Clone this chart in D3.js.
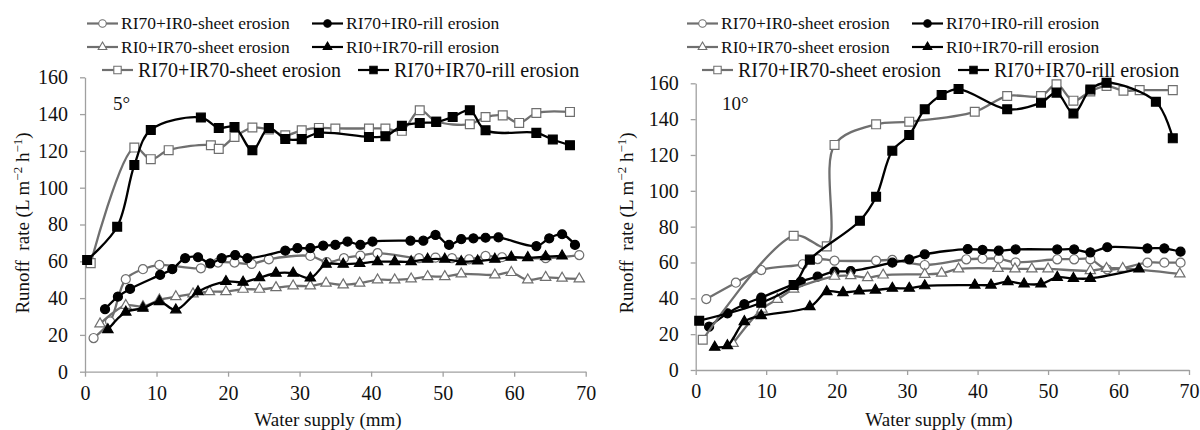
<!DOCTYPE html>
<html><head><meta charset="utf-8">
<script src="https://cdn.jsdelivr.net/npm/d3@7"></script>
<style>
body{margin:0;background:#fff}
svg{display:block}
text{font-family:"Liberation Serif","Times New Roman",serif;fill:#111;white-space:pre}
</style>
</head><body>
<svg id="c" width="1200" height="430"></svg>
<script>
// ---------- data ----------
const xTicks = [0,10,20,30,40,50,60,70];
const yTicks = [0,20,40,60,80,100,120,140,160];
const seriesNames = [
  "RI70+IR0-sheet erosion","RI70+IR0-rill erosion",
  "RI0+IR70-sheet erosion","RI0+IR70-rill erosion",
  "RI70+IR70-sheet erosion","RI70+IR70-rill erosion"
];
const panelLabels = ["5°","10°"];
const xTitle = "Water supply (mm)";

// 5 degree panel
const s5_RI70IR0_sheet = [[1.2,18.3],[3.5,27.3],[5.7,50.3],[8.1,55.7],[10.4,58.0],[16.2,56.2],[18.6,59.3],[20.9,59.3],[23.3,58.6],[25.7,61.1],[31.5,62.9],[33.8,59.5],[36.2,61.7],[38.5,63.1],[40.9,64.4],[46.7,61.7],[49.0,62.0],[51.3,61.7],[53.7,61.1],[56.0,62.9],[58.3,62.2],[64.4,61.7],[69.1,63.4]];
const s5_RI70IR0_rill = [[2.8,34.0],[4.6,40.8],[6.3,45.0],[10.5,52.6],[12.2,55.7],[14.0,61.7],[15.8,62.2],[17.5,58.9],[19.1,61.7],[21.0,63.4],[22.7,61.7],[28.0,65.8],[29.7,67.1],[31.5,67.1],[33.3,68.5],[35.0,68.9],[36.7,70.7],[38.5,68.9],[40.2,70.7],[45.5,71.2],[47.3,71.2],[49.0,74.3],[50.9,68.9],[52.6,72.0],[54.3,72.5],[56.0,72.8],[57.8,73.0],[63.1,68.3],[64.9,72.5],[66.7,74.7],[68.5,68.9]];
const s5_RI0IR70_sheet = [[2.1,26.0],[5.7,36.0],[8.1,35.4],[10.4,39.0],[12.7,40.8],[15.1,42.3],[17.4,43.5],[19.7,43.5],[22.1,44.8],[24.4,44.8],[26.7,45.7],[29.1,46.6],[31.5,46.6],[33.7,48.1],[36.1,47.2],[38.4,48.1],[40.9,49.9],[43.3,49.9],[45.6,50.4],[47.9,51.7],[50.3,51.7],[52.6,53.1],[57.3,52.6],[59.6,53.9],[61.9,49.9],[64.4,51.3],[66.7,50.8],[69.1,50.4]];
const s5_RI0IR70_rill = [[3.2,22.8],[5.7,32.4],[8.1,34.5],[10.4,38.1],[12.7,33.6],[15.8,43.5],[19.7,49.0],[22.1,48.6],[24.4,51.1],[26.7,53.5],[29.1,53.5],[31.5,50.9],[33.7,58.4],[36.1,58.4],[38.4,58.9],[40.9,59.8],[43.3,59.8],[45.6,59.8],[47.9,61.1],[50.3,61.1],[52.6,59.8],[54.9,60.2],[57.3,61.1],[59.6,62.2],[61.9,62.0],[64.4,62.5],[66.7,62.9]];
const s5_RI70IR70_sheet = [[0.8,59.0],[6.9,121.8],[9.2,115.5],[11.7,120.4],[17.6,123.1],[18.7,121.1],[20.9,127.6],[23.4,132.7],[25.7,131.6],[28.0,128.5],[30.3,131.2],[32.7,132.5],[35.0,132.2],[39.7,132.2],[42.0,132.2],[44.3,130.9],[46.8,142.1],[49.1,136.1],[53.8,134.5],[56.0,138.4],[58.4,139.3],[60.7,135.2],[63.1,140.6],[67.8,141.2]];
const s5_RI70IR70_rill = [[0.3,60.7],[4.5,78.8],[6.9,112.3],[9.2,131.4],[16.2,138.1],[18.7,132.5],[20.9,133.0],[23.4,120.4],[25.7,132.5],[28.0,126.5],[30.3,126.4],[32.7,129.8],[39.7,127.6],[42.0,128.0],[44.3,133.6],[46.8,135.2],[49.1,135.7],[51.4,138.4],[53.8,142.1],[56.0,131.2],[63.1,129.8],[65.4,126.2],[67.8,123.1]];

// 10 degree panel
const s10_RI70IR0_sheet = [[1.5,39.6],[5.7,48.7],[9.3,55.8],[15.2,59.0],[17.3,61.9],[19.7,61.0],[25.6,61.0],[27.9,61.4],[32.5,58.6],[38.4,61.8],[40.7,62.1],[43.0,62.1],[45.4,60.1],[51.3,61.8],[53.7,61.8],[56.0,61.8],[58.4,56.2],[64.1,59.9],[66.5,59.9],[68.8,59.9]];
const s10_RI70IR0_rill = [[1.9,24.2],[4.5,31.6],[6.9,36.7],[9.3,40.4],[14.9,49.3],[17.3,52.1],[19.7,54.9],[22.0,55.2],[27.9,59.9],[30.3,61.8],[32.5,64.5],[38.6,67.5],[40.7,67.0],[43.0,66.6],[45.4,67.3],[51.3,67.3],[53.7,67.3],[56.0,65.7],[58.4,68.5],[64.1,67.9],[66.5,67.9],[68.8,66.0]];
const s10_RI0IR70_sheet = [[5.3,14.9],[9.4,34.0],[11.6,39.4],[13.9,45.1],[19.7,52.3],[22.0,52.6],[24.4,51.5],[26.6,53.0],[32.5,53.4],[34.9,54.0],[37.3,56.4],[42.9,56.7],[45.3,56.4],[47.7,56.4],[50.0,56.4],[56.0,55.4],[58.3,56.7],[60.6,56.7],[68.7,53.6]];
const s10_RI0IR70_rill = [[2.7,12.7],[4.5,13.6],[6.9,27.0],[9.3,30.3],[16.2,35.3],[18.6,43.7],[20.9,43.2],[23.2,44.1],[25.5,44.6],[27.9,45.6],[30.3,45.6],[32.5,47.0],[39.6,47.4],[41.9,47.4],[44.3,49.3],[46.6,48.0],[49.0,48.0],[51.3,51.7],[53.6,51.1],[56.0,51.1],[62.9,56.4]];
const s10_RI70IR70_sheet = [[1.0,16.9],[13.9,74.9],[18.6,69.0],[19.7,125.6],[25.6,137.1],[30.3,138.6],[39.6,144.1],[44.2,152.9],[49.0,152.9],[51.2,159.5],[53.6,150.3],[56.0,155.5],[58.3,158.5],[60.7,155.9],[63.0,156.2],[67.7,156.2]];
const s10_RI70IR70_rill = [[0.5,27.5],[9.3,37.5],[13.9,47.4],[16.2,61.6],[23.3,83.3],[25.6,96.7],[27.9,122.4],[30.3,131.1],[32.5,145.5],[34.9,153.5],[37.3,156.8],[44.2,145.5],[49.0,149.2],[51.2,154.8],[53.6,143.2],[56.0,156.6],[58.3,160.3],[65.3,149.7],[67.7,129.3]];

const panelSeries = [
  [s5_RI70IR0_sheet,s5_RI70IR0_rill,s5_RI0IR70_sheet,s5_RI0IR70_rill,s5_RI70IR70_sheet,s5_RI70IR70_rill],
  [s10_RI70IR0_sheet,s10_RI70IR0_rill,s10_RI0IR70_sheet,s10_RI0IR70_rill,s10_RI70IR70_sheet,s10_RI70IR70_rill]
];

// ---------- styles / layout ----------
const GRAY = "#6f6f6f", BLACK = "#000";
const styles = [
  {color:GRAY, fill:"#fff", shape:d3.symbolCircle, size:64},
  {color:BLACK, fill:BLACK, shape:d3.symbolCircle, size:64},
  {color:GRAY, fill:"#fff", shape:d3.symbolTriangle, size:46},
  {color:BLACK, fill:BLACK, shape:d3.symbolTriangle, size:46},
  {color:GRAY, fill:"#fff", shape:d3.symbolSquare, size:78},
  {color:BLACK, fill:BLACK, shape:d3.symbolSquare, size:78}
];
const panels = [
  {left:85, right:585.7, top:77.3, bottom:371.7, dx:0, titleX:22, labelX:113, xTitleX:328},
  {left:695.7, right:1189, top:83.3, bottom:370, dx:600, titleX:626, labelX:722, xTitleX:939}
];
// [x, y, fontSize, textOffset]
const legendPos = [[87,23.5,17.5,34],[312,23.5,17.5,34],[87,47,17.5,34],[312,47,17.5,34],[102,70,20,36],[358,70,20,36]];

const svg = d3.select("#c");
const AXIS = "#a0a0a0";

panels.forEach((p, pi) => {
  const g = svg.append("g");
  const x = d3.scaleLinear().domain([0,70]).range([p.left,p.right]);
  const y = d3.scaleLinear().domain([0,160]).range([p.bottom,p.top]);

  const xa = g.append("g").attr("transform",`translate(0,${p.bottom})`)
    .call(d3.axisBottom(x).tickValues(xTicks).tickSizeInner(5).tickSizeOuter(0).tickPadding(9));
  const ya = g.append("g").attr("transform",`translate(${p.left},0)`)
    .call(d3.axisLeft(y).tickValues(yTicks).tickSizeInner(5).tickSizeOuter(0).tickPadding(12));
  [xa,ya].forEach(a=>{
    a.selectAll("path,line").attr("stroke",AXIS).attr("stroke-width",1.3);
    a.selectAll("text").attr("font-size",20).attr("fill","#111")
      .style("font-family",'"Liberation Serif","Times New Roman",serif');
  });

  // series
  const line = d3.line().x(d=>x(d[0])).y(d=>y(d[1])).curve(d3.curveCatmullRom.alpha(0.5));
  panelSeries[pi].forEach((data, si) => {
    const st = styles[si];
    g.append("path").datum(data).attr("d",line).attr("fill","none")
      .attr("stroke",st.color).attr("stroke-width",2.3).attr("stroke-linejoin","round");
    g.selectAll(null).data(data).enter().append("path")
      .attr("d",d3.symbol().type(st.shape).size(st.size)())
      .attr("transform",d=>`translate(${x(d[0])},${y(d[1])})`)
      .attr("fill",st.fill).attr("stroke",st.color).attr("stroke-width",1.2);
  });

  // panel label
  g.append("text").attr("x",p.labelX).attr("y",110).attr("font-size",19).text(panelLabels[pi]);

  // x title
  g.append("text").attr("x",p.xTitleX).attr("y",426).attr("text-anchor","middle")
    .attr("font-size",19).text(xTitle);

  // y title
  const yt = g.append("text").attr("transform",`translate(${p.titleX+7},223) rotate(-90)`)
    .attr("text-anchor","middle").attr("font-size",19);
  yt.append("tspan").text("Runoff  rate (L m");
  yt.append("tspan").attr("dy",-7).attr("font-size",13).text("\u22122");
  yt.append("tspan").attr("dy",7).text(" h");
  yt.append("tspan").attr("dy",-7).attr("font-size",13).text("\u22121");
  yt.append("tspan").attr("dy",7).text(")");

  // legend
  seriesNames.forEach((name, si) => {
    const st = styles[si];
    const [bx, ly, fs, off] = legendPos[si];
    const lx = bx + p.dx;
    const lg = g.append("g");
    lg.append("line").attr("x1",lx).attr("x2",lx+31).attr("y1",ly).attr("y2",ly)
      .attr("stroke",st.color).attr("stroke-width",2.2);
    lg.append("path").attr("d",d3.symbol().type(st.shape).size(st.size*0.7)())
      .attr("transform",`translate(${lx+15.5},${ly})`)
      .attr("fill",st.fill).attr("stroke",st.color).attr("stroke-width",1.1);
    lg.append("text").attr("x",lx+off).attr("y",ly+fs*0.34).attr("font-size",fs).text(name);
  });
});
</script>
</body></html>
